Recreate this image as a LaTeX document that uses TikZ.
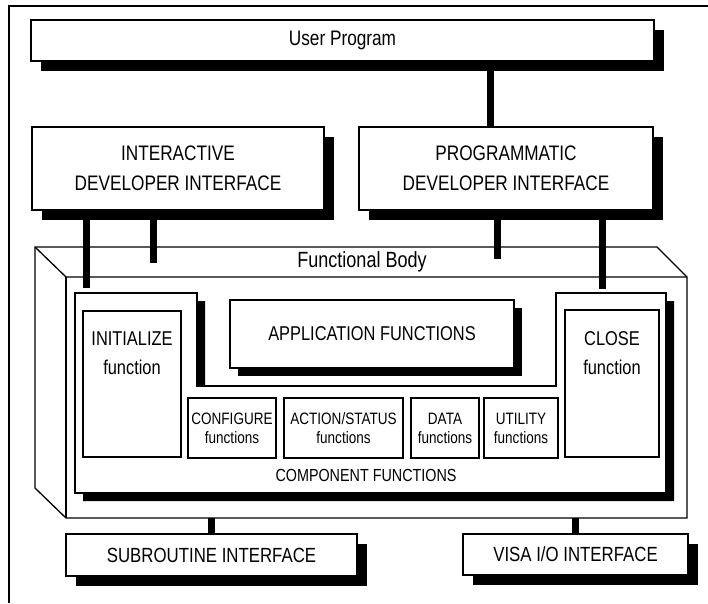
\documentclass[tikz,border=0pt]{standalone}
\usepackage{fontspec}
\setmainfont[FakeStretch=0.82]{Liberation Sans}
\usetikzlibrary{shadows}
\tikzstyle{box}=[rectangle,fill=white,draw=black,line width=1.3pt,inner sep=0pt,anchor=center,align=center]
\tikzstyle{shbox}=[box,drop shadow={shadow xshift=10pt,shadow yshift=-10pt,fill=black,opacity=1}]
\tikzstyle{smshbox}=[box,drop shadow={shadow xshift=7.5pt,shadow yshift=-7.5pt,fill=black,opacity=1}]
\tikzstyle{bus}=[line width=7pt]
\tikzstyle{body}=[line width=1.3pt,line join=miter]
\tikzstyle{annot}=[align=center,inner sep=0pt]
\newcommand{\bigtxt}{\fontsize{21pt}{30pt}\selectfont}
\newcommand{\midtxt}{\fontsize{20pt}{29pt}\selectfont}
\newcommand{\smtxt}{\fontsize{16.5pt}{19pt}\selectfont}
\newcommand{\comppath}{(75,293) -- (197,293) -- (197,386) -- (556,386) -- (556,293) -- (666,293) -- (666,493) -- (75,493) -- cycle}

\begin{document}
\begin{tikzpicture}[x=1pt,y=-1pt]
	\useasboundingbox (0,0) rectangle (708,603);
	\draw[line width=2pt] (8.5,603) -- (8.5,6) -- (708,6);

	% functional body
	\draw[body] (35,247) -- (657,247) -- (687,277) -- (687,518) -- (66,518) -- (35,488) -- cycle;
	\draw[body] (35,247) -- (66,277) -- (687,277);
	\draw[body] (66,277) -- (66,518);
	\node[annot, font=\fontsize{22pt}{26pt}\selectfont] (fbody) at (362,262) {Functional Body};

	% component functions
	\fill[black, shift={(8,8)}] \comppath;
	\filldraw[body, fill=white] \comppath;
	\node[annot, font=\fontsize{17.5pt}{20pt}\selectfont] (complbl) at (366,475) {COMPONENT FUNCTIONS};

	\node[shbox, font=\bigtxt, minimum width=623, minimum height=41](user) at (342.5,40.5){User Program};
	\node[shbox, font=\bigtxt, minimum width=292, minimum height=83](inter) at (178,168.5){INTERACTIVE\\DEVELOPER INTERFACE};
	\node[shbox, font=\bigtxt, minimum width=294, minimum height=83](prog) at (506,168.5){PROGRAMMATIC\\DEVELOPER INTERFACE};

	\node[smshbox, font=\midtxt, minimum width=284, minimum height=68](app) at (372,334){APPLICATION FUNCTIONS};
	\node[box, minimum width=98, minimum height=146](init) at (132,384){};
	\node[annot, font=\midtxt, anchor=north] (initlbl) at (132,332) {INITIALIZE\\function};
	\node[box, minimum width=94, minimum height=147](close) at (612,383.5){};
	\node[annot, font=\midtxt, anchor=north] (closelbl) at (612,331) {CLOSE\\function};

	\node[box, font=\smtxt, minimum width=88, minimum height=60](config) at (232,428){CONFIGURE\\functions};
	\node[box, font=\smtxt, minimum width=119, minimum height=60](action) at (343.5,428){ACTION/STATUS\\functions};
	\node[box, font=\smtxt, minimum width=68, minimum height=60](data) at (445,428){DATA\\functions};
	\node[box, font=\smtxt, minimum width=74, minimum height=60](util) at (521,428){UTILITY\\functions};

	\node[shbox, font=\fontsize{20.5pt}{24pt}\selectfont, minimum width=291, minimum height=42](sub) at (211.5,555){SUBROUTINE INTERFACE};
	\node[shbox, font=\fontsize{20.5pt}{24pt}\selectfont, minimum width=225, minimum height=41](visa) at (575.5,554.5){VISA I/O INTERFACE};

	% connectors
	\coordinate (upx) at (490,0);
	\coordinate (ia) at (86.5,288);
	\coordinate (ib) at (153.5,263);
	\coordinate (pa) at (497,259);
	\coordinate (pb) at (602,289);
	\coordinate (fbot) at (0,518);
	\draw[bus] (user.south -| upx) -- (prog.north -| upx);
	\draw[bus] (inter.south -| ia) -- (ia);
	\draw[bus] (inter.south -| ib) -- (ib);
	\draw[bus] (prog.south -| pa) -- (pa);
	\draw[bus] (prog.south -| pb) -- (pb);
	\draw[bus] (sub.north) -- (sub.north |- fbot);
	\draw[bus] (visa.north) -- (visa.north |- fbot);
\end{tikzpicture}
\end{document}
